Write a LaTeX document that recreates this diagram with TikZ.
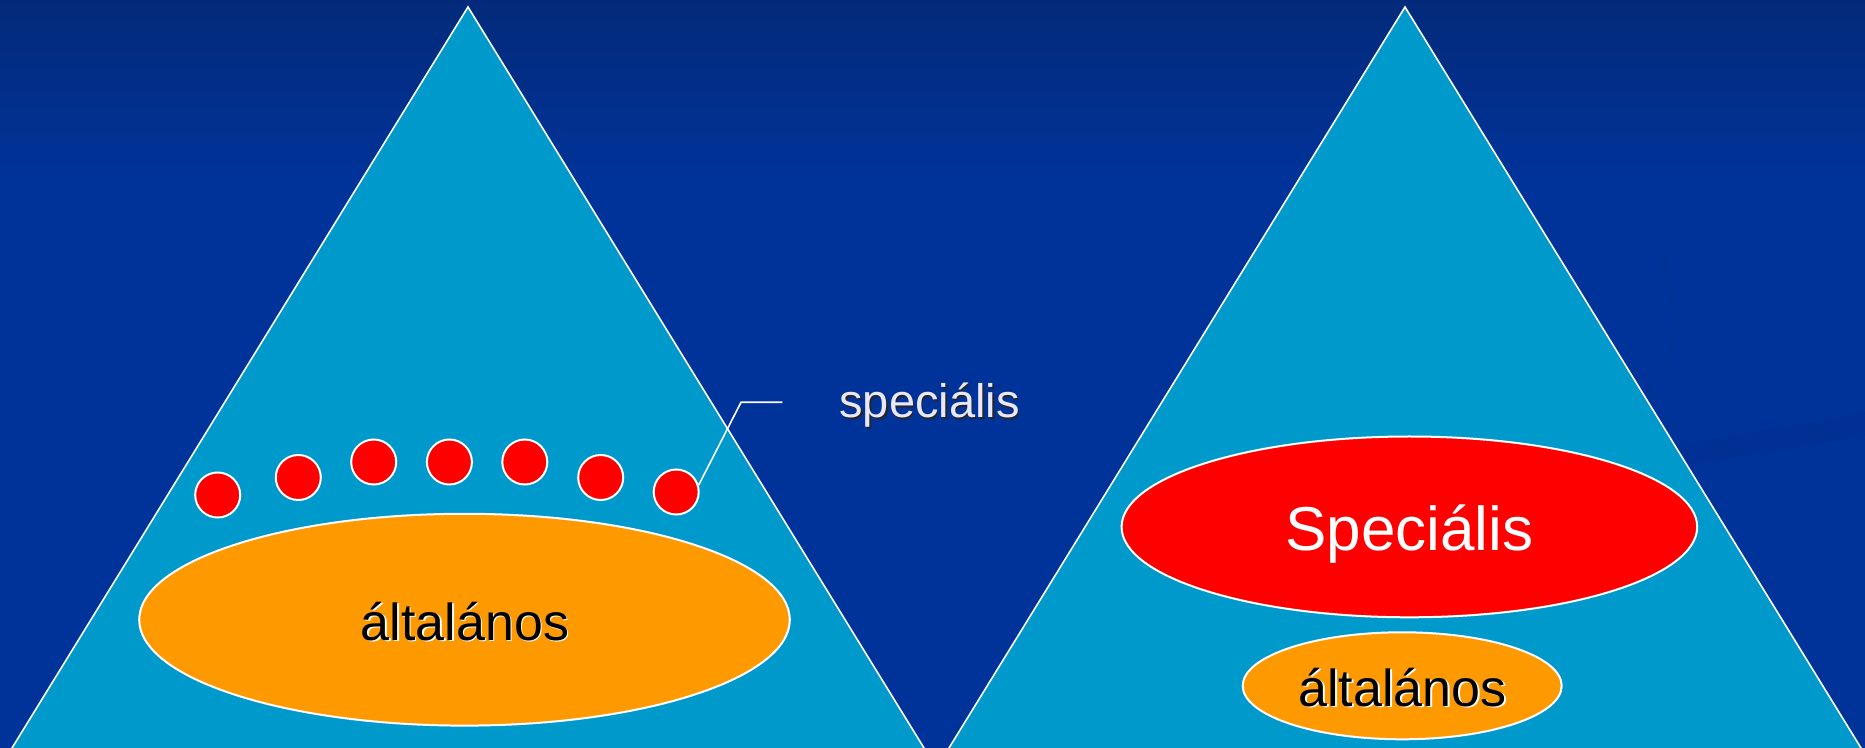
\documentclass[tikz,border=0pt]{standalone}
\usepackage{fontspec}
\setmainfont{Liberation Sans}
\usetikzlibrary{shapes.geometric}
\definecolor{bgmain}{RGB}{0,51,153}
\definecolor{bgtop}{RGB}{3,42,122}
\definecolor{tri}{RGB}{0,153,204}
\definecolor{org}{RGB}{255,153,0}
\definecolor{lav}{RGB}{232,232,250}
\definecolor{swoosh}{RGB}{0,46,142}
\begin{document}
\begin{tikzpicture}[x=0.5pt,y=-0.5pt,
  triangle/.style={fill=tri,draw=white,line width=0.8pt,line join=miter},
  dot/.style={circle,fill=red,draw=white,line width=1pt,minimum size=22.5pt,inner sep=0pt},
  blob/.style={ellipse,draw=white,line width=1pt,inner sep=0pt},
  bigtext/.style={anchor=base,inner sep=0pt,font=\fontsize{26}{30}\selectfont},
  leader/.style={draw=white,line width=0.8pt}
]
\useasboundingbox (0,0) rectangle (1865,748);
% background
\fill[bgmain] (0,0) rectangle (1865,748);
\shade[top color=bgtop,bottom color=bgmain] (0,0) rectangle (1865,180);
\fill[swoosh,opacity=0.5] (1600,480) .. controls (1700,462) and (1800,448) .. (1865,436)
  -- (1865,412) .. controls (1800,425) and (1700,440) .. (1600,458) -- cycle;
\draw[swoosh,line width=3pt,opacity=0.3] (1660,250) .. controls (1685,320) and (1680,370) .. (1640,400);
% triangles
\filldraw[triangle] (468,7) -- (4.6,760) -- (931.4,760) -- cycle;
\filldraw[triangle] (1405,7) -- (941.6,760) -- (1868.4,760) -- cycle;
% left pyramid
\node[blob,fill=org,minimum width=325.3pt,minimum height=105.9pt] (genL) at (464.5,619.7) {};
\node[dot] (c1) at (217.7,495) {};
\node[dot] (c2) at (298.3,477.5) {};
\node[dot] (c3) at (373.7,462) {};
\node[dot] (c4) at (449.4,462) {};
\node[dot] (c5) at (524.8,462) {};
\node[dot] (c6) at (600.7,477.5) {};
\node[dot] (c7) at (676.2,492) {};
\node[bigtext,text=white] (genLs) at (466.3,641.8) {általános};
\node[bigtext,text=black] (genLt) at (465,640) {általános};
% leader and label
\coordinate (k1) at (741,402.3);
\coordinate (k2) at (782.3,402.3);
\draw[leader] (c7.17) -- (k1) -- (k2);
\node[anchor=base,inner sep=0pt,font=\fontsize{23.5}{28}\selectfont,text=black!85] (specs) at (931.3,419.8) {speciális};
\node[anchor=base,inner sep=0pt,font=\fontsize{23.5}{28}\selectfont,text=lav] (spec) at (929.5,418) {speciális};
% right pyramid
\node[blob,fill=red,minimum width=287.8pt,minimum height=90.4pt] (specR) at (1409.4,526.9) {};
\node[anchor=base,inner sep=0pt,font=\fontsize{31}{36}\selectfont,text=white] (specRt) at (1409.5,551) {Speciális};
\node[blob,fill=org,minimum width=159.5pt,minimum height=53.5pt] (genR) at (1402.2,685.8) {};
\node[bigtext,text=white] (genRs) at (1404.3,707.8) {általános};
\node[bigtext,text=black] (genRt) at (1402.5,706) {általános};
\end{tikzpicture}
\end{document}
